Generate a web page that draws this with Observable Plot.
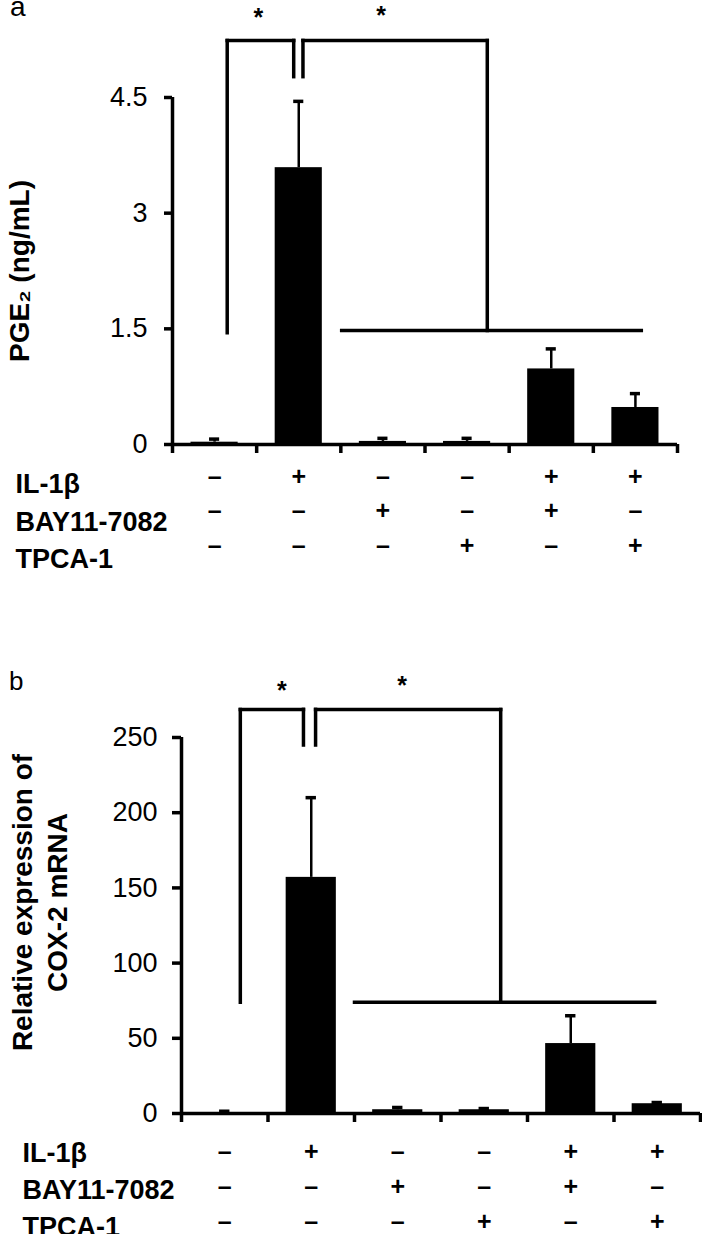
<!DOCTYPE html>
<html><head><meta charset="utf-8">
<script src="https://cdn.jsdelivr.net/npm/d3@7"></script>
<script src="https://cdn.jsdelivr.net/npm/@observablehq/plot@0.6"></script>
<style>
body{margin:0;background:#fff;}
#wrap{position:relative;width:702px;height:1234px;overflow:hidden;font-family:"Liberation Sans",Arial,sans-serif;}
.panel{position:absolute;left:0;}
.letter{position:absolute;line-height:14px;color:#000;}
</style></head><body>
<div id="wrap">
  <div class="panel" id="pa" style="top:0"></div>
  <div class="panel" id="pb" style="top:600px"></div>
  <div class="letter" style="left:10px;top:0px;font-size:28px">a</div>
  <div class="letter" style="left:9px;top:674px;font-size:26px">b</div>
</div>
<script>
// ---- data ----
const groups = [0, 1, 2, 3, 4, 5];
const rowLabels = ["IL-1β", "BAY11-7082", "TPCA-1"];
const il1b = ["–", "+", "–", "–", "+", "+"];
const bay  = ["–", "–", "+", "–", "+", "–"];
const tpca = ["–", "–", "–", "+", "–", "+"];

const pge2Mean = [0.03, 3.59, 0.04, 0.04, 0.98, 0.48];
const pge2Err  = [0.04, 0.86, 0.04, 0.04, 0.26, 0.18];
const pge2Ticks = [0, 1.5, 3, 4.5];

const cox2Mean = [0.6, 157, 2.5, 2.5, 46.5, 6.5];
const cox2Err  = [0.9, 53, 1.5, 0.8, 18.5, 0.8];
const cox2Ticks = [0, 50, 100, 150, 200, 250];

// significance annotations (group index units / data units)
const sigA = {xL: 0.15, xG1: 0.94, xG2: 1.05, xR: 3.24, top: 5.24, gapEnd: 4.77, leftEnd: 1.45, base: 1.48, b1: 1.51, b2: 5.07};
const starsA = [{x: 0.52, y: 5.53}, {x: 1.98, y: 5.56}];
const sigB = {xL: 0.18, xG1: 0.91, xG2: 1.05, xR: 3.19, top: 268.7, gapEnd: 245, leftEnd: 74, base: 74, b1: 1.5, b2: 4.97};
const starsB = [{x: 0.66, y: 281}, {x: 2.05, y: 284}];

const FONT = '"Liberation Sans", Arial, sans-serif';

function drawPanel(cfg) {
  const data = groups.map((g, i) => ({i: g, v: cfg.means[i], hi: cfg.means[i] + cfg.errs[i]}));
  const bounds = d3.range(-0.5, groups.length, 1);
  const s = cfg.sig;
  const segs = [
    {x1: s.xL, x2: s.xL, y1: s.leftEnd, y2: s.top},
    {x1: s.xL, x2: s.xG1, y1: s.top, y2: s.top},
    {x1: s.xG1, x2: s.xG1, y1: s.gapEnd, y2: s.top},
    {x1: s.xG2, x2: s.xG2, y1: s.gapEnd, y2: s.top},
    {x1: s.xG2, x2: s.xR, y1: s.top, y2: s.top},
    {x1: s.xR, x2: s.xR, y1: s.base, y2: s.top},
    {x1: s.b1, x2: s.b2, y1: s.base, y2: s.base}
  ];
  const half = cfg.barHalf;
  return Plot.plot({
    width: 702, height: cfg.height,
    marginLeft: cfg.mL, marginRight: cfg.mR, marginTop: cfg.mT, marginBottom: cfg.mB,
    x: {type: "linear", domain: [-0.5, groups.length - 0.5], axis: null},
    y: {domain: [0, cfg.yMax], axis: null},
    style: {fontFamily: FONT, fontSize: "27px", color: "#000", background: "#fff", overflow: "visible"},
    marks: [
      Plot.rectY(data, {x1: d => d.i - half, x2: d => d.i + half, y1: 0, y2: "v", fill: "#000"}),
      Plot.ruleX(data, {x: "i", y1: "v", y2: "hi", stroke: "#000", strokeWidth: 2.5}),
      Plot.ruleY(data, {y: "hi", x1: d => d.i - 0.06, x2: d => d.i + 0.06, stroke: "#000", strokeWidth: 3.5}),
      Plot.ruleY([0], {x1: -0.5, x2: groups.length - 0.5, stroke: "#000", strokeWidth: 3.5}),
      Plot.ruleX([-0.5], {y1: 0, y2: cfg.yMax, stroke: "#000", strokeWidth: 3.5}),
      Plot.axisY(cfg.yTicks, {tickSize: cfg.yTickSize, tickPadding: cfg.yTickPad, strokeWidth: 3.5, fontSize: 27, tickFormat: d => String(d)}),
      Plot.axisX(bounds, {tickSize: 9, tickFormat: () => "", strokeWidth: 3.5}),
      Plot.axisX(groups, {tickSize: 0, tickPadding: cfg.signPad, tickFormat: i => [il1b[i], bay[i], tpca[i]].join("\n"),
        fontWeight: "bold", fontSize: 25, lineHeight: cfg.signLH}),
      Plot.link(segs, {x1: "x1", x2: "x2", y1: "y1", y2: "y2", stroke: "#000", strokeWidth: 3.5, strokeLinecap: "square"}),
      Plot.text(cfg.stars, {x: "x", y: "y", text: () => "*", fontWeight: "bold", fontSize: 25}),
      Plot.text([rowLabels.join("\n")], {text: d => d, frameAnchor: "bottom-left", textAnchor: "start", lineAnchor: "top",
        dx: cfg.rowDx, dy: cfg.rowDy, fontWeight: "bold", fontSize: 27, lineHeight: cfg.rowLH}),
      Plot.text([cfg.yLabel], {text: d => d, frameAnchor: "left", textAnchor: "middle", lineAnchor: "middle", rotate: -90,
        dx: cfg.labDx, dy: cfg.labDy, fontWeight: "bold", fontSize: 28, lineHeight: 1.25})
    ]
  });
}

document.getElementById("pa").append(drawPanel({
  means: pge2Mean, errs: pge2Err, yTicks: pge2Ticks, yMax: 4.5, sig: sigA, stars: starsA,
  height: 600, mL: 172, mR: 25, mT: 97, mB: 156, barHalf: 0.28,
  yTickSize: 8, yTickPad: 17, signPad: 16, signLH: 1.38,
  rowDx: -157, rowDy: 22, rowLH: 1.39,
  yLabel: "PGE₂ (ng/mL)", labDx: -155, labDy: 0
}));

document.getElementById("pb").append(drawPanel({
  means: cox2Mean, errs: cox2Err, yTicks: cox2Ticks, yMax: 250, sig: sigB, stars: starsB,
  height: 634, mL: 181, mR: 2, mT: 137, mB: 121, barHalf: 0.29,
  yTickSize: 9, yTickPad: 15, signPad: 22, signLH: 1.4,
  rowDx: -159, rowDy: 22, rowLH: 1.37,
  yLabel: "Relative expression of\nCOX-2 mRNA", labDx: -143.5, labDy: -23
}));
</script>
</body></html>
